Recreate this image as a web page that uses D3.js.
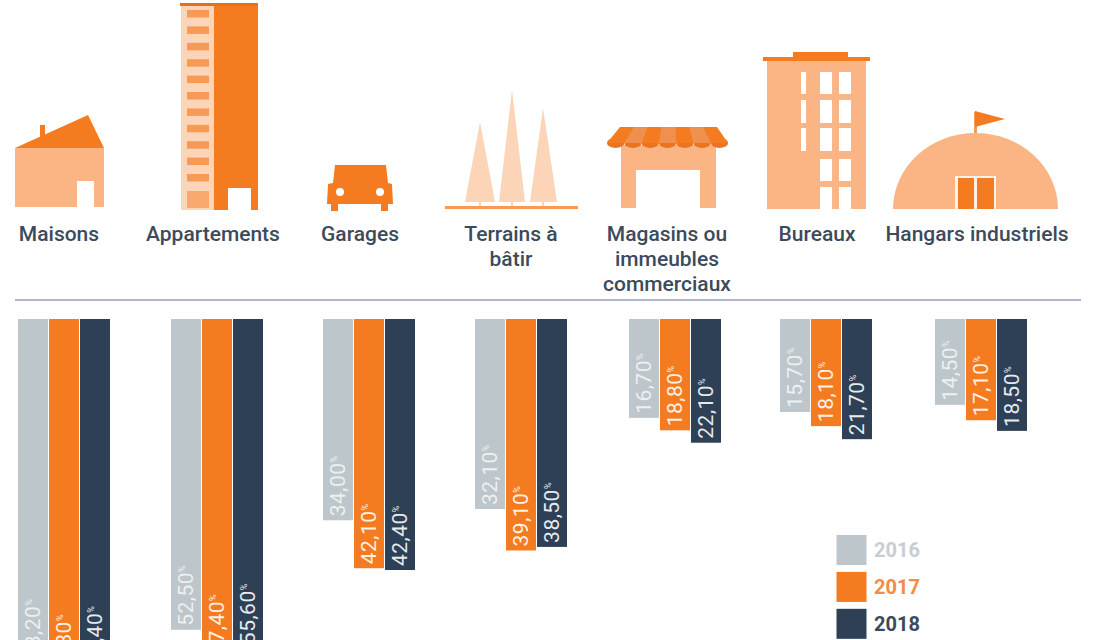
<!DOCTYPE html>
<html>
<head>
<meta charset="utf-8">
<script src="https://cdn.jsdelivr.net/npm/d3@7/dist/d3.min.js"></script>
<style>
  html, body { margin: 0; padding: 0; background: #fff; overflow: hidden; }
  svg { display: block; }
  text { font-family: Roboto, "Noto Sans", sans-serif; }
</style>
</head>
<body>
<svg id="chart"></svg>
<script>
var categories = ['Maisons', 'Appartements', 'Garages', 'Terrains à bâtir', 'Magasins ou immeubles commerciaux', 'Bureaux', 'Hangars industriels'];
var years = ['2016', '2017', '2018'];

// bar lengths as drawn. some 2018 bars do not quite agree with the figure
// printed on them in the picture, so the printed labels are kept separately
var values2016 = [58.2, 52.5, 34.0, 32.1, 16.7, 15.7, 14.5];
var values2017 = [60.8, 57.4, 42.1, 39.1, 18.8, 18.1, 17.1];
var values2018 = [59.4, 55.6, 42.4, 38.5, 20.9, 20.3, 18.9];

var labels2016 = ['58,20', '52,50', '34,00', '32,10', '16,70', '15,70', '14,50'];
var labels2017 = ['60,80', '57,40', '42,10', '39,10', '18,80', '18,10', '17,10'];
var labels2018 = ['59,40', '55,60', '42,40', '38,50', '22,10', '21,70', '18,50'];

var labelLines = [['Maisons'], ['Appartements'], ['Garages'], ['Terrains à', 'bâtir'], ['Magasins ou', 'immeubles', 'commerciaux'], ['Bureaux'], ['Hangars industriels']];

var w = 1097;
var h = 640;
var orange = '#f47b20';
var midOrange = '#f79a58';
var lightOrange = '#fbb584';
var paleOrange = '#fcd5b8';
var textDark = '#3c4a5c';

var barColor = d3.scaleOrdinal().domain(years).range(['#bdc6cb', orange, '#2d4056']);
var legendTextColor = d3.scaleOrdinal().domain(years).range(['#c6ced3', '#f58b46', textDark]);
var barTextColor = d3.scaleOrdinal().domain(years).range(['#edf0f1', '#fdf0e4', '#e6eaee']);

var seriesValues = { '2016': values2016, '2017': values2017, '2018': values2018 };
var seriesLabels = { '2016': labels2016, '2017': labels2017, '2018': labels2018 };

var svg = d3.select('#chart').attr('width', w).attr('height', h);

// the groups are not evenly spaced in the picture
var scaleX = d3.scaleOrdinal().domain(categories).range([18, 171, 323, 475, 629, 780, 935]);
var scaleYear = d3.scaleBand().domain(years).range([0, 92]).paddingInner(0.033);
// the bars hang down from the line and run off the bottom of the page
var scaleY = d3.scaleLinear().domain([0, 100]).range([319, 911]);

function drawBars() {
  years.forEach(function(year) {
    var g = svg.append('g').attr('class', 'series-' + year);
    g.selectAll('rect')
      .data(categories)
      .enter()
      .append('rect')
        .attr('x', function(d) { return scaleX(d) + scaleYear(year); })
        .attr('y', scaleY(0))
        .attr('width', scaleYear.bandwidth())
        .attr('height', function(d, i) { return scaleY(seriesValues[year][i]) - scaleY(0); })
        .style('fill', barColor(year));

    var labels = g.selectAll('text')
      .data(categories)
      .enter()
      .append('text')
        .attr('transform', function(d, i) {
          var x = scaleX(d) + scaleYear(year) + scaleYear.bandwidth() / 2 + 7;
          var y = scaleY(seriesValues[year][i]) - 4;
          return 'translate(' + x + ',' + y + ') rotate(-90)';
        })
        .style('fill', barTextColor(year))
        .style('font-size', '21px')
        .style('letter-spacing', '0.5px');
    labels.append('tspan').text(function(d, i) { return seriesLabels[year][i]; });
    labels.append('tspan')
      .attr('dy', -8)
      .style('font-size', '9px')
      .text('%');
  });
}

function drawCategoryLabels() {
  // label centres do not follow the bar groups exactly
  var centres = [59, 213, 360, 511, 667, 817, 977];
  categories.forEach(function(c, i) {
    svg.append('text')
      .attr('text-anchor', 'middle')
      .style('fill', textDark)
      .style('font-size', '21px')
      .style('font-weight', 500)
      .selectAll('tspan')
      .data(labelLines[i])
      .enter()
      .append('tspan')
        .attr('x', centres[i])
        .attr('y', function(d, j) { return 241 + j * 25; })
        .text(function(d) { return d; });
  });

  svg.append('line')
    .attr('x1', 15).attr('x2', 1081)
    .attr('y1', 300).attr('y2', 300)
    .style('stroke', '#9a9bbd')
    .style('stroke-width', 1.5);
}

function drawLegend() {
  var scaleLegend = d3.scaleBand().domain(years).range([535, 645]).paddingInner(0.02);
  var g = svg.selectAll('.legend')
    .data(years)
    .enter()
    .append('g')
      .attr('class', 'legend');
  g.append('rect')
    .attr('x', 836.5)
    .attr('y', function(d) { return scaleLegend(d); })
    .attr('width', 30)
    .attr('height', 30)
    .style('fill', function(d) { return barColor(d); });
  g.append('text')
    .attr('x', 874)
    .attr('y', function(d) { return scaleLegend(d) + 22; })
    .style('fill', function(d) { return legendTextColor(d); })
    .style('font-size', '20px')
    .style('font-weight', 700)
    .text(function(d) { return d; });
}

// small helpers for the pictograms above the labels
function box(x0, y0, x1, y1, fill) {
  svg.append('rect')
    .attr('x', x0).attr('y', y0)
    .attr('width', x1 - x0).attr('height', y1 - y0)
    .style('fill', fill);
}
function poly(points, fill) {
  svg.append('polygon')
    .attr('points', points.map(function(p) { return p.join(','); }).join(' '))
    .style('fill', fill);
}

function drawMaison() {
  box(15, 148, 104, 207, lightOrange);
  box(77, 181, 94, 207, '#fff');
  box(40, 125, 45, 138, orange);
  poly([[15, 148], [88, 115], [104, 148]], orange);
}

function drawAppartement() {
  box(181, 6, 214, 210, paleOrange);
  box(214, 6, 258, 210, orange);
  box(180, 3, 258, 6, '#e8701a');
  box(228, 188, 251, 210, '#fff');
  d3.range(11).forEach(function(i) {
    box(187, 10 + i * 16.4, 209, 17.5 + i * 16.4, midOrange);
  });
  box(187, 191, 209, 208, '#f9a86f');
}

function drawGarage() {
  poly([[335, 165], [386, 165], [388, 183], [392, 184], [393, 204], [327, 204], [328, 184], [333, 183]], orange);
  box(331, 204, 338, 211, orange);
  box(381, 204, 388, 211, orange);
  [340, 380].forEach(function(x) {
    svg.append('circle').attr('cx', x).attr('cy', 192).attr('r', 4).style('fill', '#fff');
  });
}

function drawTerrain() {
  [[465, 495, 480, 122], [499, 525, 512, 90], [530, 557, 543, 108]].forEach(function(t) {
    poly([[t[0], 202], [t[2], t[3]], [t[1], 202]], paleOrange);
    box(t[2] - 1, 202, t[2] + 1, 206, paleOrange);
  });
  box(445, 206, 578, 209, midOrange);
}

function drawMagasin() {
  box(621, 145, 716, 208, lightOrange);
  box(636, 170, 700, 208, '#fff');
  d3.range(7).forEach(function(i) {
    svg.append('ellipse')
      .attr('cx', 607 + (i + 0.5) * 17.3)
      .attr('cy', 143)
      .attr('rx', 8.65)
      .attr('ry', 5)
      .style('fill', '#ea7420');
  });
  poly([[620, 127], [717, 127], [728, 143], [607, 143]], orange);
  d3.range(7).forEach(function(i) {
    if (i % 2 === 0) return;
    poly([
      [620 + i * 13.86, 127], [620 + (i + 1) * 13.86, 127],
      [607 + (i + 1) * 17.3, 143], [607 + i * 17.3, 143]
    ], '#f0904f');
  });
}

function drawBureau() {
  box(767, 61, 866, 209, lightOrange);
  box(793, 52, 848, 57, orange);
  box(763, 57, 870, 61, orange);
  var rows = [[72, 94], [100, 123], [128, 151], [159, 181], [187, 209]];
  rows.forEach(function(r, i) {
    if (i < 3) box(801, r[0], 806, r[1], '#fff');
    box(820, r[0], 832, r[1], '#fff');
    box(839, r[0], 851, r[1], '#fff');
  });
}

function drawHangar() {
  box(974, 112, 977, 135, midOrange);
  poly([[975, 111], [1005, 119], [975, 127]], orange);
  svg.append('path')
    .attr('d', 'M893,209 A82.5,76 0 0 1 1058,209 Z')
    .style('fill', lightOrange);
  box(955, 176, 996, 209, '#fff3e9');
  box(958, 178, 974, 209, orange);
  box(977, 178, 994, 209, orange);
}

drawMaison();
drawAppartement();
drawGarage();
drawTerrain();
drawMagasin();
drawBureau();
drawHangar();
drawCategoryLabels();
drawBars();
drawLegend();
</script>
</body>
</html>
